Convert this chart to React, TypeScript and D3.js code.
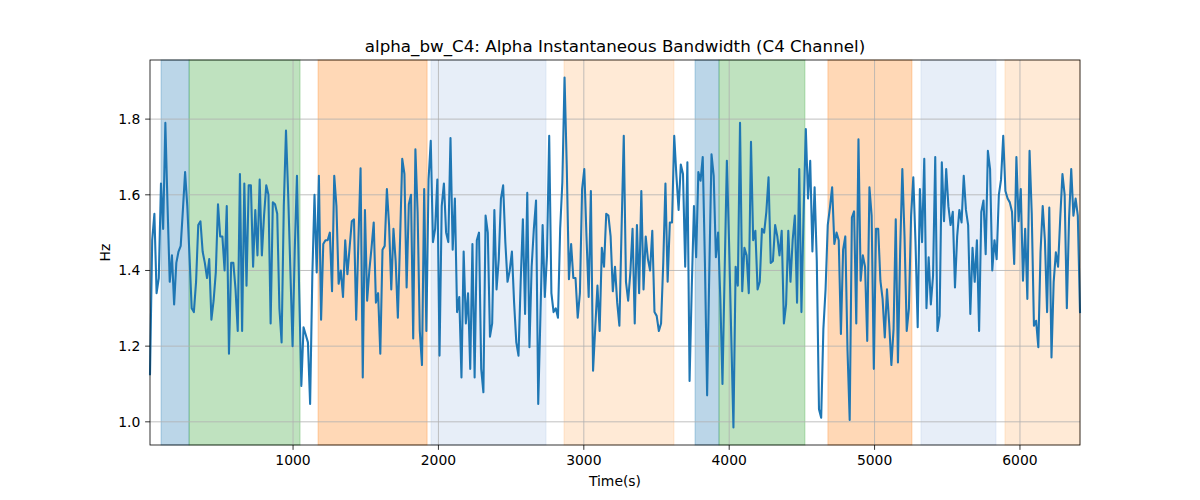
import React from "react";
import * as d3 from "d3";

const T_START = 16;
const T_END = 6413;

const bandwidth: number[] = [
  1.126, 1.48, 1.55, 1.34, 1.38, 1.63, 1.51, 1.79, 1.57, 1.37, 1.44, 1.31, 1.42, 1.45, 1.465, 1.56, 1.66, 1.57, 1.44, 1.30, 1.29, 1.37, 1.52, 1.53, 1.45, 1.42, 1.38, 1.43, 1.27, 1.32, 1.395, 1.575, 1.49, 1.49, 1.40, 1.57, 1.18, 1.42, 1.42, 1.35, 1.24, 1.655, 1.24, 1.63, 1.36, 1.625, 1.625, 1.41, 1.56, 1.44, 1.64, 1.44, 1.545, 1.625, 1.60, 1.26, 1.58, 1.575, 1.55, 1.30, 1.21, 1.57, 1.77, 1.60, 1.40, 1.20, 1.455,
  1.65, 1.35, 1.095, 1.25, 1.23, 1.21, 1.047, 1.385, 1.60, 1.395, 1.65, 1.27, 1.47, 1.48, 1.48, 1.50, 1.345, 1.65, 1.57, 1.365, 1.40, 1.33, 1.48, 1.39, 1.46, 1.53, 1.535, 1.27, 1.475, 1.67, 1.117, 1.56, 1.32, 1.40, 1.46, 1.527, 1.315, 1.34, 1.18, 1.455, 1.465, 1.615, 1.52, 1.35, 1.51, 1.425, 1.275, 1.48, 1.695, 1.655, 1.355, 1.575, 1.60, 1.22, 1.72, 1.555, 1.24, 1.15, 1.615, 1.24, 1.64, 1.743, 1.475, 1.51, 1.64, 1.175, 1.57, 1.63, 1.50,
  1.475, 1.75, 1.455, 1.59, 1.29, 1.33, 1.117, 1.45, 1.26, 1.34, 1.14, 1.47, 1.117, 1.48, 1.50, 1.14, 1.078, 1.545, 1.50, 1.225, 1.26, 1.56, 1.35, 1.43, 1.59, 1.625, 1.475, 1.37, 1.40, 1.45, 1.315, 1.21, 1.175, 1.37, 1.535, 1.285, 1.605, 1.197, 1.41, 1.51, 1.585, 1.047, 1.28, 1.52, 1.33, 1.44, 1.756, 1.34, 1.29, 1.30, 1.275, 1.51, 1.633, 1.91, 1.677, 1.377, 1.47, 1.38, 1.38, 1.275, 1.34, 1.615, 1.668, 1.49, 1.33, 1.61, 1.135, 1.25, 1.36,
  1.24, 1.46, 1.41, 1.55, 1.545, 1.49, 1.345, 1.41, 1.315, 1.254, 1.51, 1.756, 1.37, 1.32, 1.395, 1.51, 1.26, 1.52, 1.34, 1.61, 1.35, 1.49, 1.43, 1.40, 1.505, 1.29, 1.28, 1.24, 1.26, 1.42, 1.63, 1.37, 1.527, 1.527, 1.756, 1.65, 1.56, 1.68, 1.655, 1.41, 1.686, 1.108, 1.355, 1.57, 1.435, 1.66, 1.637, 1.70, 1.42, 1.07, 1.40, 1.707, 1.65, 1.435, 1.50, 1.33, 1.10, 1.40, 1.69, 1.475, 1.227, 0.985, 1.41, 1.36, 1.79, 1.345, 1.46, 1.44,
  1.34, 1.74, 1.48, 1.505, 1.35, 1.37, 1.51, 1.50, 1.555, 1.646, 1.42, 1.425, 1.52, 1.49, 1.44, 1.505, 1.26, 1.31, 1.505, 1.37, 1.48, 1.545, 1.315, 1.668, 1.29, 1.555, 1.774, 1.59, 1.69, 1.45, 1.62, 1.425, 1.033, 1.011, 1.245, 1.35, 1.52, 1.567, 1.62, 1.47, 1.50, 1.48, 1.232, 1.455, 1.49, 1.19, 1.005, 1.54, 1.556, 1.26, 1.747, 1.373, 1.44, 1.41, 1.214, 1.62, 1.545, 1.14, 1.51, 1.51, 1.373, 1.325, 1.223, 1.35, 1.26, 1.15, 1.245, 1.535, 1.157, 1.45,
  1.668, 1.49, 1.24, 1.30, 1.545, 1.646, 1.475, 1.25, 1.615, 1.475, 1.695, 1.30, 1.435, 1.31, 1.386, 1.70, 1.24, 1.28, 1.686, 1.53, 1.668, 1.57, 1.52, 1.555, 1.355, 1.49, 1.56, 1.527, 1.65, 1.56, 1.52, 1.285, 1.46, 1.37, 1.48, 1.24, 1.555, 1.585, 1.443, 1.716, 1.668, 1.40, 1.48, 1.43, 1.60, 1.64, 1.756, 1.61, 1.59, 1.58, 1.555, 1.417, 1.70, 1.53, 1.615, 1.373, 1.51, 1.325, 1.716, 1.55, 1.254, 1.267, 1.197, 1.448, 1.57, 1.48, 1.29, 1.566, 1.17, 1.37, 1.448, 1.41, 1.54, 1.655, 1.60, 1.30, 1.535, 1.668, 1.545, 1.59, 1.545, 1.29,
];

const spanStarts = [92, 285, 1172, 1949, 2864, 3765, 3930, 4679, 5319, 5897];
const spanEnds = [285, 1048, 1922, 2740, 3620, 3930, 4521, 5257, 5835, 6413];
const spanColors = ["#1f77b4", "#2ca02c", "#ff7f0e", "#aec7e8", "#ffbb78", "#1f77b4", "#2ca02c", "#ff7f0e", "#aec7e8", "#ffbb78"];

const xTicks = [1000, 2000, 3000, 4000, 5000, 6000];
const yTicks = [1.0, 1.2, 1.4, 1.6, 1.8];

const TITLE = "alpha_bw_C4: Alpha Instantaneous Bandwidth (C4 Channel)";

export default function App() {
  const W = 1200, H = 500;
  const L = 150, R = 1080, T = 60, B = 445;
  const n = bandwidth.length;
  const step = (T_END - T_START) / (n - 1);
  const pts = bandwidth.map((v, i) => ({ t: T_START + i * step, v }));
  const x = d3.scaleLinear().domain([T_START, T_END]).range([L, R]);
  const vmin = d3.min(bandwidth)!, vmax = d3.max(bandwidth)!;
  const pad = (vmax - vmin) * 0.05;
  const y = d3.scaleLinear().domain([vmin - pad, vmax + pad]).range([B, T]);
  const line = d3.line<{ t: number; v: number }>().x(d => x(d.t)).y(d => y(d.v));
  const font = "DejaVu Sans, sans-serif";

  return (
    <svg width={W} height={H} style={{ position: "absolute", left: 0, top: 0, background: "#fff" }} fontFamily={font}>
      <rect x={0} y={0} width={W} height={H} fill="#fff" />
      {spanStarts.map((s, i) => (
        <rect key={"s" + i} x={x(s)} y={T} width={x(spanEnds[i]) - x(s)} height={B - T}
          fill={spanColors[i]} fillOpacity={0.3} stroke={spanColors[i]} strokeOpacity={0.3} strokeWidth={1} />
      ))}
      {xTicks.map(t => (
        <line key={"gx" + t} x1={x(t)} x2={x(t)} y1={T} y2={B} stroke="#b0b0b0" strokeWidth={0.8} />
      ))}
      {yTicks.map(t => (
        <line key={"gy" + t} x1={L} x2={R} y1={y(t)} y2={y(t)} stroke="#b0b0b0" strokeWidth={0.8} />
      ))}
      <path d={line(pts)!} fill="none" stroke="#1f77b4" strokeWidth={2.08} strokeLinejoin="round" strokeLinecap="square" />
      <rect x={L} y={T} width={R - L} height={B - T} fill="none" stroke="#000" strokeWidth={0.8} />
      {xTicks.map(t => (
        <g key={"tx" + t}>
          <line x1={x(t)} x2={x(t)} y1={B} y2={B + 4.86} stroke="#000" strokeWidth={0.8} />
          <text x={x(t)} y={B + 9.7} dy="0.76em" textAnchor="middle" fontSize={13.9} fill="#000">{t}</text>
        </g>
      ))}
      {yTicks.map(t => (
        <g key={"ty" + t}>
          <line x1={L - 4.86} x2={L} y1={y(t)} y2={y(t)} stroke="#000" strokeWidth={0.8} />
          <text x={L - 9.7} y={y(t)} dy="0.35em" textAnchor="end" fontSize={13.9} fill="#000">{t.toFixed(1)}</text>
        </g>
      ))}
      <text x={(L + R) / 2} y={486} textAnchor="middle" fontSize={13.9} fill="#000">Time(s)</text>
      <text transform={`translate(110,${(T + B) / 2}) rotate(-90)`} textAnchor="middle" fontSize={13.9} fill="#000">Hz</text>
      <text x={(L + R) / 2} y={52} textAnchor="middle" fontSize={16.7} fill="#000">{TITLE}</text>
    </svg>
  );
}
